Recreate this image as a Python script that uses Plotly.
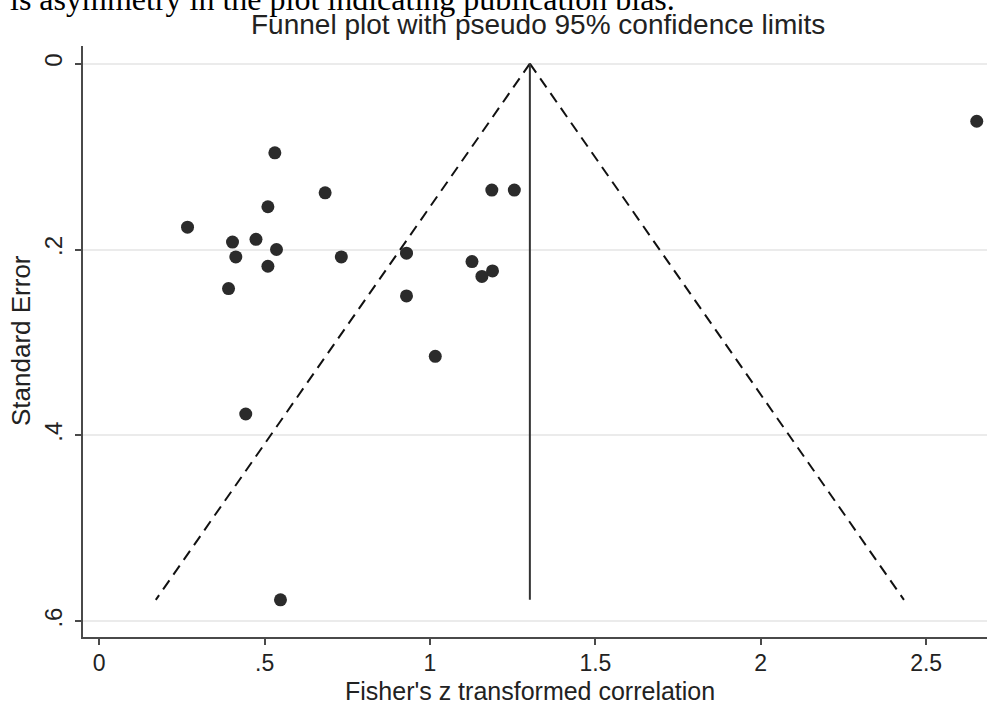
import plotly.graph_objects as go

# Data
fisher_z = [0.531, 0.683, 1.187, 1.255, 0.510, 0.267, 0.403, 0.474, 0.536, 0.413,
            0.732, 0.929, 0.510, 0.391, 1.127, 1.189, 1.157, 0.929, 1.016, 0.443,
            0.548, 2.653]
std_err = [0.096, 0.139, 0.136, 0.136, 0.154, 0.176, 0.192, 0.189, 0.200, 0.208,
           0.208, 0.204, 0.218, 0.242, 0.213, 0.223, 0.229, 0.250, 0.315, 0.377,
           0.577, 0.062]
pooled_z = 1.302
z_crit = 1.96

x_tickvals = [0, 0.5, 1, 1.5, 2, 2.5]
x_ticktext = ["0", ".5", "1", "1.5", "2", "2.5"]
y_tickvals = [0, 0.2, 0.4, 0.6]
y_ticktext = ["0", ".2", ".4", ".6"]

title_text = "Funnel plot with pseudo 95% confidence limits"
x_title = "Fisher's z transformed correlation"
y_title = "Standard Error"
caption_text = "is asymmetry in the plot indicating publication bias."

max_se = max(std_err)
lower_x = [pooled_z, pooled_z - z_crit * max_se]
upper_x = [pooled_z, pooled_z + z_crit * max_se]
limit_y = [0, max_se]

W, H = 987, 704
ML, MR, MT, MB = 83, 0, 46, 67
PW, PH = W - ML - MR, H - MT - MB

def px_x(p):
    return (p - ML) / PW

def px_y(p):
    return (H - MB - p) / PH

SANS = "Liberation Sans, Arial, sans-serif"
TXT = "#222222"
AX = "#4a4a4a"

fig = go.Figure()
fig.add_trace(go.Scatter(x=lower_x, y=limit_y, mode="lines",
                         line=dict(color="#111111", width=2, dash="11px,7px"),
                         hoverinfo="skip", showlegend=False))
fig.add_trace(go.Scatter(x=upper_x, y=limit_y, mode="lines",
                         line=dict(color="#111111", width=2, dash="11px,7px"),
                         hoverinfo="skip", showlegend=False))
fig.add_trace(go.Scatter(x=[pooled_z, pooled_z], y=limit_y, mode="lines",
                         line=dict(color="#333333", width=2),
                         hoverinfo="skip", showlegend=False))
fig.add_trace(go.Scatter(x=fisher_z, y=std_err, mode="markers",
                         marker=dict(size=13, color="#2b2b2b"),
                         cliponaxis=False, showlegend=False))

fig.update_layout(
    width=W, height=H,
    margin=dict(l=ML, r=MR, t=MT, b=MB, autoexpand=False),
    paper_bgcolor="white", plot_bgcolor="white",
    showlegend=False,
    font=dict(family=SANS, color=TXT),
    xaxis=dict(range=[-0.049, 2.684], tickvals=x_tickvals, ticktext=x_ticktext,
               ticks="outside", ticklen=6, tickwidth=2, tickcolor=AX,
               showline=True, linecolor=AX, linewidth=2, showgrid=False,
               zeroline=False, automargin=False, ticklabelstandoff=-2,
               tickfont=dict(size=23, color=TXT, family=SANS)),
    yaxis=dict(range=[0.617, -0.019], tickvals=y_tickvals, ticktext=y_ticktext,
               ticks="outside", ticklen=6, tickwidth=2, tickcolor=AX,
               showline=True, linecolor=AX, linewidth=2, showgrid=True,
               gridcolor="#ebebeb", gridwidth=2, zeroline=False, tickangle=-90,
               automargin=False, ticklabelstandoff=3,
               tickfont=dict(size=24, color=TXT, family=SANS)),
)

fig.add_annotation(text=title_text, xref="paper", yref="paper",
                   x=px_x(538), y=px_y(24), xanchor="center", yanchor="middle",
                   showarrow=False, font=dict(size=28, color=TXT, family=SANS))
fig.add_annotation(text=x_title, xref="paper", yref="paper",
                   x=px_x(530), y=px_y(691), xanchor="center", yanchor="middle",
                   showarrow=False, font=dict(size=25, color=TXT, family=SANS))
fig.add_annotation(text=y_title, xref="paper", yref="paper",
                   x=px_x(21), y=px_y(341), xanchor="center", yanchor="middle",
                   textangle=-90, showarrow=False,
                   font=dict(size=26, color=TXT, family=SANS))
fig.add_annotation(text=caption_text, xref="paper", yref="paper",
                   x=px_x(8), y=px_y(-1), xanchor="left", yanchor="middle",
                   showarrow=False,
                   font=dict(size=32, color="#000000", family="Liberation Serif, Times New Roman, serif"))

fig.write_html("out.html", config={"displayModeBar": False},
               post_script="document.body.style.margin='0';document.body.style.overflow='hidden';")
